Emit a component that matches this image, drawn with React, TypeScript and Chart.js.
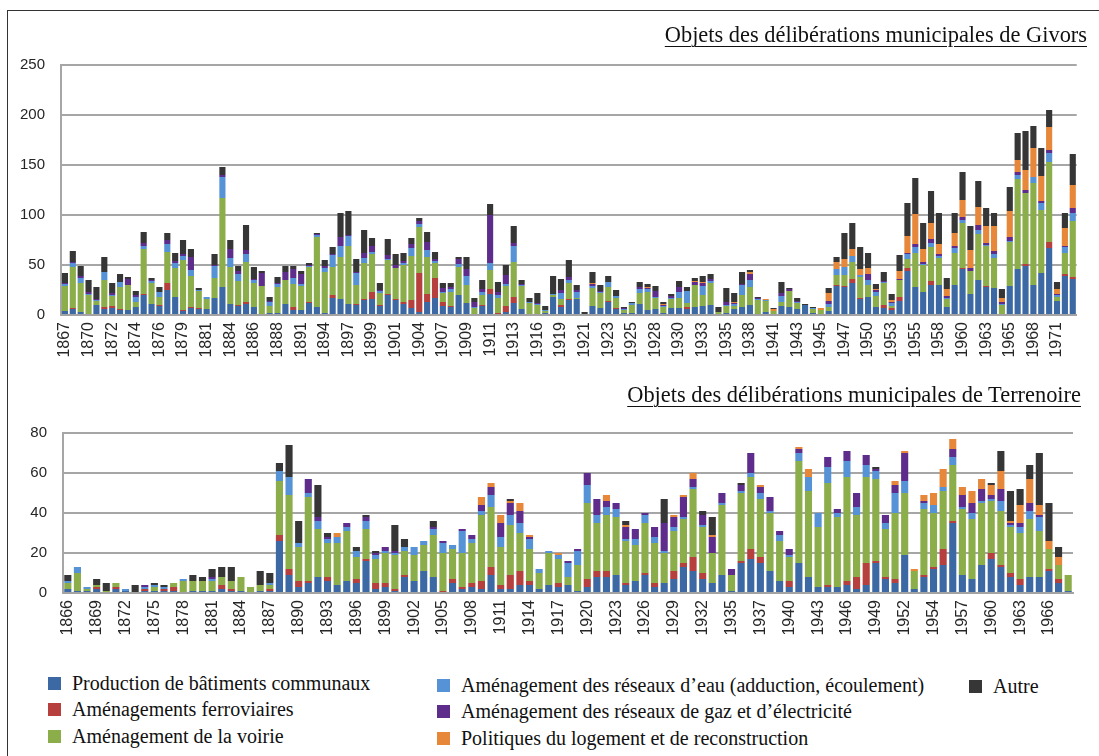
import React, { useEffect, useRef } from 'react';
import { Chart, registerables } from 'chart.js';

Chart.register(...registerables);

// ---------- series (legend) ----------
const seriesNames = [
  'Production de bâtiments communaux',
  'Aménagements ferroviaires',
  'Aménagement de la voirie',
  'Aménagement des réseaux d’eau (adduction, écoulement)',
  'Aménagement des réseaux de gaz et d’électricité',
  'Politiques du logement et de reconstruction',
  'Autre',
];
const seriesColors = ['#3c69a3', '#b5403d', '#8cae4a', '#5693d6', '#5e2d8c', '#e6873a', '#363636'];

// ---------- Givors ----------
const givorsTickYears = [
  '1867', '1870', '1872', '1874', '1876', '1879', '1881', '1884', '1886', '1888', '1891', '1894', '1897', '1899',
  '1901', '1904', '1907', '1909', '1911', '1913', '1916', '1919', '1921', '1923', '1925', '1928', '1930', '1933',
  '1935', '1938', '1941', '1943', '1945', '1947', '1950', '1953', '1955', '1958', '1960', '1963', '1965', '1968', '1971',
];
const givorsProduction = [
  4, 6, 3, 1, 10, 6, 7, 5, 5, 8, 20, 11, 9, 25, 18, 4, 7, 6, 6, 17, 28, 11, 9, 11, 8, 1, 2, 2, 11, 5,
  5, 12, 8, 2, 17, 16, 11, 10, 15, 16, 9, 20, 15, 11, 7, 3, 13, 17, 9, 8, 20, 12, 1, 9, 21, 1, 3, 12, 6, 1,
  1, 2, 18, 8, 15, 16, 1, 9, 7, 13, 6, 2, 2, 11, 5, 6, 2, 7, 7, 6, 8, 9, 10, 1, 2, 6, 8, 10, 1, 3,
  0, 9, 8, 6, 10, 2, 1, 4, 29, 28, 32, 16, 18, 8, 7, 5, 14, 44, 28, 23, 30, 30, 8, 30, 46, 21, 35, 28, 27, 1,
  29, 46, 49, 30, 42, 67, 14, 39, 36,
];
const givorsFerroviaire = [
  0, 1, 0, 0, 0, 2, 2, 1, 0, 0, 1, 0, 1, 7, 0, 1, 1, 1, 0, 0, 0, 0, 1, 2, 0, 0, 0, 0, 0, 3,
  0, 1, 0, 0, 3, 0, 0, 1, 1, 7, 1, 1, 1, 2, 8, 39, 8, 20, 4, 1, 0, 0, 0, 1, 5, 1, 6, 6, 0, 0,
  0, 0, 0, 2, 1, 0, 0, 0, 0, 1, 1, 0, 0, 0, 0, 0, 0, 0, 0, 2, 0, 0, 0, 0, 0, 0, 0, 0, 0, 0,
  0, 0, 0, 0, 0, 0, 0, 0, 1, 1, 4, 1, 0, 0, 3, 2, 4, 3, 0, 0, 4, 0, 0, 0, 1, 0, 0, 1, 0, 0,
  0, 0, 2, 0, 0, 6, 0, 2, 2,
];
const givorsVoirie = [
  25, 41, 29, 19, 4, 27, 10, 22, 25, 5, 45, 21, 8, 31, 29, 50, 31, 17, 10, 20, 89, 37, 24, 40, 24, 28, 7, 26, 24, 23,
  24, 35, 70, 41, 28, 42, 58, 19, 36, 38, 12, 34, 31, 37, 44, 46, 37, 15, 9, 14, 28, 18, 6, 10, 19, 15, 20, 35, 23, 11,
  9, 2, 2, 6, 16, 1, 0, 18, 15, 14, 10, 3, 8, 11, 18, 11, 6, 9, 10, 4, 22, 11, 22, 2, 7, 3, 12, 18, 14, 11,
  4, 4, 16, 6, 0, 4, 4, 4, 10, 11, 17, 21, 12, 11, 22, 2, 17, 9, 34, 27, 34, 27, 8, 32, 45, 23, 46, 40, 30, 9,
  44, 90, 71, 102, 63, 80, 4, 21, 56,
];
const givorsEau = [
  2, 4, 5, 1, 1, 8, 1, 5, 0, 5, 3, 2, 5, 8, 5, 4, 6, 1, 2, 12, 21, 9, 7, 8, 3, 0, 4, 3, 0, 6,
  2, 1, 2, 4, 12, 11, 10, 12, 5, 2, 2, 1, 0, 2, 8, 3, 7, 2, 1, 3, 3, 9, 1, 3, 7, 3, 2, 16, 1, 1,
  1, 1, 1, 6, 3, 6, 0, 2, 1, 5, 2, 1, 2, 4, 3, 1, 1, 1, 6, 12, 0, 9, 2, 0, 1, 2, 10, 7, 1, 1,
  0, 6, 0, 1, 0, 1, 0, 3, 6, 8, 6, 2, 5, 4, 1, 3, 0, 5, 6, 1, 4, 2, 1, 5, 3, 0, 4, 1, 4, 1,
  1, 4, 0, 6, 7, 9, 2, 6, 8,
];
const givorsGaz = [
  1, 1, 2, 2, 1, 0, 2, 0, 6, 2, 3, 1, 0, 4, 2, 2, 13, 0, 0, 1, 2, 9, 3, 4, 1, 13, 1, 1, 8, 9,
  10, 1, 1, 2, 1, 9, 1, 1, 5, 6, 1, 4, 3, 2, 4, 3, 8, 2, 4, 2, 5, 7, 5, 3, 48, 3, 9, 3, 1, 0,
  1, 0, 0, 3, 3, 2, 0, 2, 1, 0, 0, 1, 0, 2, 1, 6, 1, 2, 5, 0, 3, 3, 2, 0, 3, 1, 1, 6, 1, 0,
  0, 3, 2, 1, 0, 0, 0, 3, 0, 0, 0, 0, 6, 2, 1, 1, 1, 1, 3, 2, 4, 2, 2, 2, 3, 3, 5, 2, 3, 2,
  4, 3, 3, 0, 2, 3, 1, 1, 5,
];
const givorsLogement = [
  0, 0, 0, 0, 0, 0, 0, 0, 0, 0, 0, 0, 0, 0, 0, 0, 0, 0, 0, 0, 0, 0, 0, 0, 0, 0, 0, 0, 0, 0,
  0, 0, 0, 0, 0, 0, 0, 0, 0, 0, 0, 0, 0, 0, 0, 0, 0, 0, 0, 0, 0, 0, 0, 0, 0, 0, 0, 0, 0, 0,
  0, 0, 0, 0, 0, 0, 0, 1, 0, 0, 0, 0, 0, 0, 1, 0, 1, 0, 0, 0, 1, 1, 0, 0, 0, 1, 0, 2, 0, 1,
  2, 0, 0, 0, 0, 0, 2, 8, 7, 8, 7, 6, 6, 1, 0, 2, 8, 17, 30, 13, 16, 10, 7, 13, 17, 18, 18, 17, 25, 4,
  26, 12, 20, 29, 25, 23, 5, 18, 23,
];
const givorsAutre = [
  10, 11, 10, 12, 12, 15, 10, 8, 2, 4, 11, 2, 5, 7, 8, 14, 8, 2, 0, 11, 8, 9, 5, 25, 12, 2, 4, 6, 6, 3,
  3, 2, 1, 6, 7, 24, 24, 13, 23, 8, 7, 16, 11, 8, 6, 3, 10, 7, 5, 4, 2, 12, 4, 9, 11, 10, 10, 17, 4, 4,
  10, 4, 18, 11, 17, 5, 2, 11, 6, 6, 6, 1, 1, 5, 3, 5, 2, 2, 6, 4, 3, 6, 5, 5, 14, 9, 12, 2, 1, 0,
  1, 11, 1, 3, 1, 1, 0, 5, 5, 26, 26, 22, 15, 5, 9, 6, 16, 33, 36, 26, 32, 31, 11, 20, 28, 24, 26, 18, 13, 9,
  24, 27, 39, 22, 28, 17, 7, 15, 31,
];

// ---------- Terrenoire ----------
const terrenoireTickYears = [
  '1866', '1869', '1872', '1875', '1878', '1881', '1884', '1887', '1890', '1893', '1896', '1899', '1902', '1905',
  '1908', '1911', '1914', '1917', '1920', '1923', '1926', '1929', '1932', '1935', '1937', '1940', '1943', '1946',
  '1949', '1952', '1954', '1957', '1960', '1963', '1966',
];
const terrenoireProduction = [
  2, 1, 1, 2, 0, 2, 1, 0, 1, 1, 1, 1, 0, 1, 1, 1, 2, 1, 1, 0, 1, 1, 26, 9, 3, 5, 8, 6, 4, 6,
  5, 16, 2, 3, 1, 8, 6, 11, 8, 0, 5, 2, 3, 2, 9, 2, 2, 4, 4, 2, 4, 3, 4, 1, 3, 8, 8, 9, 4, 6,
  9, 3, 5, 7, 13, 11, 7, 5, 9, 1, 15, 17, 15, 11, 6, 3, 15, 8, 3, 3, 3, 4, 2, 4, 15, 7, 5, 19, 2, 8,
  12, 14, 35, 9, 7, 14, 17, 13, 8, 4, 8, 8, 11, 5, 1,
];
const terrenoireFerroviaire = [
  0, 0, 0, 1, 0, 1, 0, 0, 1, 0, 1, 2, 0, 0, 0, 0, 2, 1, 0, 0, 0, 1, 3, 3, 3, 1, 0, 2, 0, 0,
  2, 1, 3, 2, 1, 1, 0, 0, 0, 1, 2, 1, 2, 4, 4, 2, 7, 7, 2, 0, 0, 2, 0, 0, 4, 3, 3, 0, 1, 0,
  1, 2, 0, 4, 2, 7, 3, 0, 0, 0, 1, 5, 3, 0, 0, 3, 0, 0, 0, 1, 0, 2, 6, 11, 1, 1, 2, 0, 0, 1,
  1, 8, 1, 0, 0, 0, 3, 1, 2, 3, 0, 0, 1, 2, 0,
];
const terrenoireVoirie = [
  3, 9, 1, 1, 1, 2, 0, 0, 0, 2, 0, 2, 6, 5, 5, 5, 4, 4, 7, 3, 3, 2, 27, 37, 17, 42, 24, 17, 21, 25,
  11, 15, 12, 15, 17, 12, 13, 13, 21, 19, 15, 17, 20, 33, 30, 19, 25, 19, 16, 8, 16, 12, 4, 13, 38, 24, 28, 29, 21, 18,
  25, 20, 15, 20, 22, 34, 23, 15, 35, 8, 34, 36, 29, 29, 20, 12, 51, 43, 30, 51, 35, 52, 31, 43, 41, 24, 33, 31, 9, 33,
  27, 29, 28, 33, 30, 31, 26, 27, 23, 23, 29, 23, 10, 7, 8,
];
const terrenoireEau = [
  1, 3, 1, 0, 0, 0, 1, 0, 1, 1, 1, 0, 1, 0, 0, 1, 0, 0, 0, 0, 0, 1, 5, 9, 2, 2, 4, 2, 3, 2,
  3, 4, 2, 1, 1, 2, 4, 2, 3, 5, 2, 11, 2, 2, 6, 5, 5, 5, 5, 2, 1, 2, 7, 7, 9, 4, 4, 4, 1, 3,
  4, 3, 1, 2, 1, 1, 1, 0, 1, 0, 1, 2, 3, 1, 3, 1, 4, 7, 7, 8, 2, 8, 4, 6, 4, 3, 10, 6, 0, 3,
  4, 2, 4, 1, 3, 1, 1, 5, 1, 3, 4, 7, 0, 0, 0,
];
const terrenoireGaz = [
  0, 0, 0, 0, 0, 0, 0, 0, 1, 0, 0, 0, 0, 0, 0, 1, 0, 0, 0, 0, 0, 0, 0, 0, 0, 7, 2, 1, 0, 2,
  0, 2, 1, 2, 1, 0, 0, 0, 1, 1, 0, 1, 2, 3, 4, 7, 6, 6, 1, 0, 0, 0, 1, 1, 6, 8, 3, 3, 6, 5,
  1, 5, 14, 5, 10, 4, 5, 8, 5, 3, 3, 10, 3, 7, 2, 3, 2, 0, 0, 5, 2, 5, 7, 5, 1, 4, 4, 14, 0, 1,
  0, 0, 4, 6, 5, 6, 2, 6, 1, 2, 4, 1, 0, 0, 0,
];
const terrenoireLogement = [
  0, 0, 0, 0, 0, 0, 0, 0, 0, 0, 0, 0, 0, 0, 0, 0, 0, 0, 0, 0, 0, 0, 0, 0, 0, 0, 0, 0, 2, 0,
  0, 0, 0, 0, 0, 0, 0, 0, 0, 0, 0, 0, 0, 4, 2, 4, 1, 4, 1, 0, 0, 1, 0, 0, 0, 0, 3, 0, 1, 0,
  0, 0, 0, 1, 1, 3, 0, 1, 0, 0, 0, 0, 1, 0, 0, 0, 1, 4, 0, 0, 0, 0, 0, 0, 0, 0, 2, 1, 1, 3,
  6, 9, 5, 4, 6, 5, 5, 9, 1, 9, 12, 5, 4, 4, 0,
];
const terrenoireAutre = [
  3, 0, 0, 3, 4, 0, 0, 4, 0, 1, 1, 0, 0, 3, 2, 4, 5, 7, 0, 0, 7, 5, 4, 16, 11, 0, 16, 2, 0, 0,
  2, 1, 1, 0, 13, 4, 0, 0, 3, 0, 0, 0, 0, 0, 0, 0, 1, 0, 0, 0, 0, 0, 0, 0, 0, 0, 0, 0, 2, 0,
  0, 0, 12, 0, 0, 0, 2, 9, 0, 0, 1, 0, 0, 0, 0, 0, 0, 0, 0, 0, 0, 0, 0, 0, 1, 0, 0, 0, 0, 0,
  0, 0, 0, 0, 0, 0, 1, 10, 15, 8, 7, 26, 19, 5, 0,
];

const givorsSeries = [givorsProduction, givorsFerroviaire, givorsVoirie, givorsEau, givorsGaz, givorsLogement, givorsAutre];
const terrenoireSeries = [
  terrenoireProduction, terrenoireFerroviaire, terrenoireVoirie, terrenoireEau, terrenoireGaz, terrenoireLogement, terrenoireAutre,
];

// one category per bar; only every third category carries a printed year
function buildCategories(tickYears: string[], count: number): string[] {
  return Array.from({ length: count }, (_, i) => (i % 3 === 0 ? tickYears[i / 3] ?? '' : ''));
}

type PanelProps = {
  top: number;
  height: number;
  series: number[][];
  tickYears: string[];
  yMax: number;
  yStep: number;
  padTop: number;
  padRight: number;
  yWidth: number;
  xHeight: number;
  barPct: number;
};

function Panel(p: PanelProps) {
  const ref = useRef<HTMLCanvasElement | null>(null);
  useEffect(() => {
    if (!ref.current) return;
    const labels = buildCategories(p.tickYears, p.series[0].length);
    const chart = new Chart(ref.current, {
      type: 'bar',
      data: {
        labels,
        datasets: p.series.map((d, i) => ({
          label: seriesNames[i],
          data: d,
          backgroundColor: seriesColors[i],
          borderWidth: 0,
          barPercentage: p.barPct,
          categoryPercentage: 1,
          stack: 's',
        })),
      },
      options: {
        animation: false,
        responsive: false,
        maintainAspectRatio: false,
        devicePixelRatio: 1,
        layout: { padding: { top: p.padTop, right: p.padRight, left: 0, bottom: 0 } },
        plugins: { legend: { display: false }, tooltip: { enabled: false }, title: { display: false } },
        scales: {
          x: {
            stacked: true,
            grid: { display: false, drawTicks: false },
            border: { display: true, color: '#a3a3a3', width: 2 },
            ticks: {
              autoSkip: false,
              minRotation: 90,
              maxRotation: 90,
              padding: 7,
              color: '#262626',
              font: { family: 'Liberation Sans', size: 16 },
            },
            afterFit: (s: any) => {
              s.height = p.xHeight;
            },
          },
          y: {
            stacked: true,
            min: 0,
            max: p.yMax,
            ticks: {
              stepSize: p.yStep,
              padding: 16,
              color: '#262626',
              font: { family: 'Liberation Sans', size: 15 },
            },
            grid: { color: '#a6a6a6', lineWidth: 2, drawTicks: false },
            border: { display: true, color: '#a6a6a6', width: 2 },
            afterFit: (s: any) => {
              s.width = p.yWidth;
            },
          },
        },
      },
    });
    return () => chart.destroy();
  }, []);
  return (
    <canvas
      ref={ref}
      width={1099}
      height={p.height}
      style={{ position: 'absolute', left: 0, top: p.top, width: 1099, height: p.height }}
    />
  );
}

const serif = '"Liberation Serif", "Times New Roman", serif';

function Title({ text, right, top }: { text: string; right: number; top: number }) {
  return (
    <div
      style={{
        position: 'absolute',
        right,
        top,
        fontFamily: serif,
        fontSize: 22.4,
        lineHeight: '22px',
        color: '#111',
        whiteSpace: 'nowrap',
        textDecoration: 'underline',
        textDecorationThickness: '1px',
        textUnderlineOffset: '4px',
      }}
    >
      {text}
    </div>
  );
}

const legendPlacement = [
  { x: 48, y: 673 },
  { x: 48, y: 699 },
  { x: 48, y: 726 },
  { x: 437, y: 675 },
  { x: 437, y: 701 },
  { x: 437, y: 728 },
  { x: 969, y: 676 },
];

function Legend() {
  return (
    <>
      {seriesNames.map((name, i) => (
        <div
          key={name}
          style={{
            position: 'absolute',
            left: legendPlacement[i].x,
            top: legendPlacement[i].y,
            display: 'flex',
            alignItems: 'center',
            whiteSpace: 'nowrap',
          }}
        >
          <span
            style={{ display: 'inline-block', width: 13, height: 13, background: seriesColors[i], marginRight: 11 }}
          />
          <span style={{ fontFamily: serif, fontSize: 20, lineHeight: '20px', color: '#111' }}>{name}</span>
        </div>
      ))}
    </>
  );
}

export default function App() {
  return (
    <div
      style={{
        position: 'absolute',
        left: 0,
        top: 0,
        width: 1099,
        height: 756,
        overflow: 'hidden',
        background: '#ffffff',
      }}
    >
      <div
        style={{
          position: 'absolute',
          left: 7,
          top: 10,
          width: 1092,
          height: 746,
          borderLeft: '1px solid #333',
          borderTop: '1px solid #333',
        }}
      />
      <Panel
        top={0}
        height={385}
        series={givorsSeries}
        tickYears={givorsTickYears}
        yMax={250}
        yStep={50}
        padTop={65}
        padRight={10}
        yWidth={61}
        xHeight={70}
        barPct={0.78}
      />
      <Panel
        top={380}
        height={280}
        series={terrenoireSeries}
        tickYears={terrenoireTickYears}
        yMax={80}
        yStep={20}
        padTop={53}
        padRight={26}
        yWidth={63}
        xHeight={67}
        barPct={0.74}
      />
      <Title text="Objets des délibérations municipales de Givors" right={12} top={24} />
      <Title text="Objets des délibérations municipales de Terrenoire" right={18} top={384} />
      <Legend />
    </div>
  );
}
